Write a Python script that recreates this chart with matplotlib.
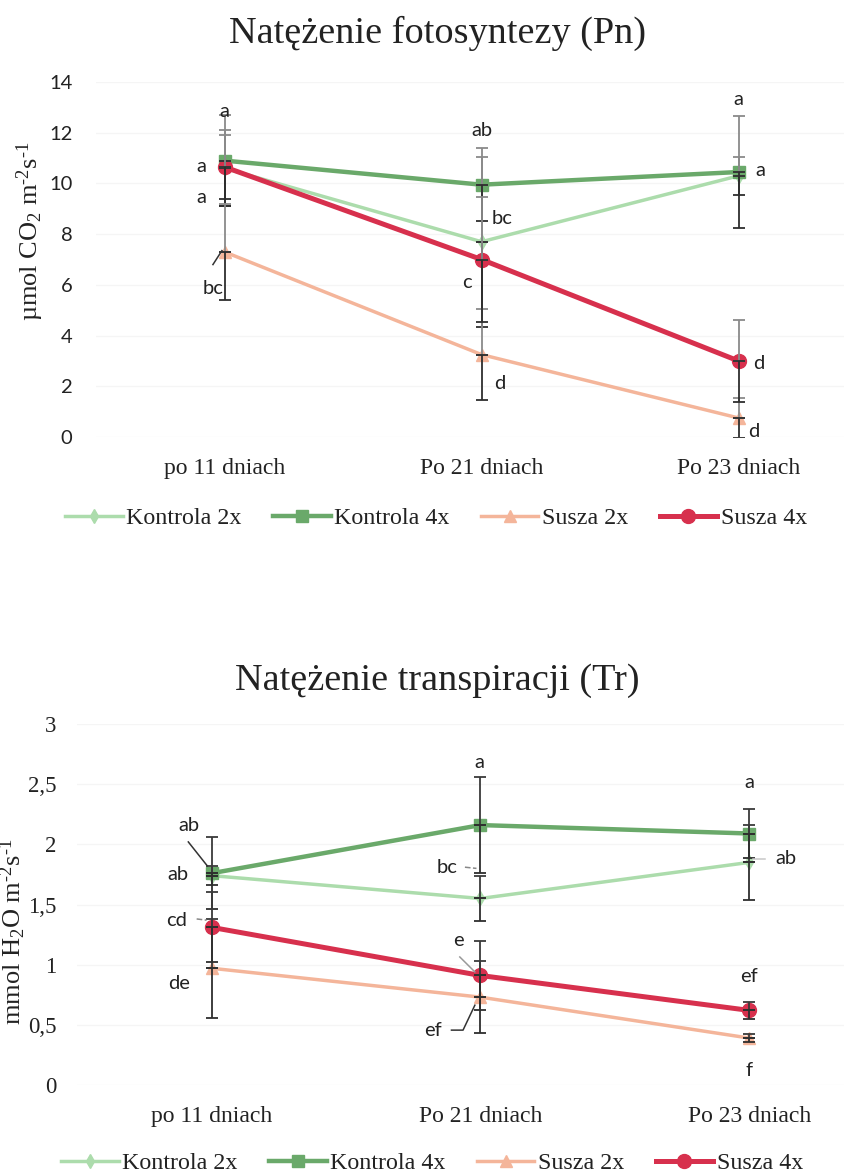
import matplotlib
matplotlib.use("Agg")
import matplotlib.pyplot as plt
from matplotlib.lines import Line2D

# ---------------- data ----------------
days = ["po 11 dniach", "Po 21 dniach", "Po 23 dniach"]
series_names = ["Kontrola 2x", "Kontrola 4x", "Susza 2x", "Susza 4x"]

# Net photosynthesis (Pn), µmol CO2 m-2 s-1
pn_kontrola_2x = [10.6, 7.7, 10.3]
pn_kontrola_4x = [10.9, 9.95, 10.45]
pn_susza_2x = [7.3, 3.25, 0.75]
pn_susza_4x = [10.65, 7.0, 3.0]
pn_err_kontrola_2x = [1.5, 3.35, 0.75]
pn_err_kontrola_4x = [1.8, 1.45, 2.2]
pn_err_susza_2x = [1.9, 1.8, 0.8]
pn_err_susza_4x = [1.25, 2.45, 1.6]
pn_ticks = [0, 2, 4, 6, 8, 10, 12, 14]

# Transpiration (Tr), mmol H2O m-2 s-1
tr_kontrola_2x = [1.74, 1.55, 1.85]
tr_kontrola_4x = [1.76, 2.16, 2.09]
tr_susza_2x = [0.97, 0.73, 0.39]
tr_susza_4x = [1.31, 0.91, 0.62]
tr_err_kontrola_2x = [0.08, 0.19, 0.31]
tr_err_kontrola_4x = [0.30, 0.40, 0.20]
tr_err_susza_2x = [0.41, 0.30, 0.03]
tr_err_susza_4x = [0.29, 0.29, 0.07]
tr_ticks = [0, 0.5, 1, 1.5, 2, 2.5, 3]

# significance letters: (text, day index)
pn_letters = [("a", 0), ("a", 0), ("a", 0), ("bc", 0),
              ("ab", 1), ("bc", 1), ("c", 1), ("d", 1),
              ("a", 2), ("a", 2), ("d", 2), ("d", 2)]
tr_letters = [("ab", 0), ("ab", 0), ("cd", 0), ("de", 0),
              ("a", 1), ("bc", 1), ("e", 1), ("ef", 1),
              ("a", 2), ("ab", 2), ("ef", 2), ("f", 2)]

# ---------------- layout / style ----------------
pn_letter_pos = [(0.0, 12.85), (-0.09, 10.65), (-0.09, 9.45), (-0.045, 5.85),
                 (0.0, 12.1), (0.08, 8.6), (-0.055, 6.1), (0.07, 2.1),
                 (0.0, 13.3), (0.085, 10.5), (0.08, 2.9), (0.06, 0.2)]
tr_letter_pos = [(-0.083, 2.16), (-0.125, 1.75), (-0.129, 1.37), (-0.122, 0.84),
                 (-0.006, 2.68), (-0.124, 1.81), (-0.081, 1.20), (-0.177, 0.456),
                 (0.0, 2.515), (0.136, 1.88), (0.0, 0.90), (0.0, 0.124)]

# leader lines: (day index, [(dx, y), ...], color, linestyle)
pn_leaders = [(0, [(-0.045, 6.8), (-0.01, 7.35)], "#333333", "-")]
tr_leaders = [(0, [(-0.087, 2.02), (-0.016, 1.82)], "#333333", "-"),
              (0, [(-0.056, 1.38), (-0.019, 1.37)], "#888888", "--"),
              (1, [(-0.058, 1.81), (-0.015, 1.80)], "#888888", "--"),
              (1, [(-0.077, 1.064), (-0.021, 0.94)], "#999999", "-"),
              (1, [(-0.108, 0.456), (-0.065, 0.456), (-0.021, 0.663)], "#333333", "-"),
              (2, [(0.014, 1.88), (0.058, 1.88)], "#c8c8c8", "-")]

styles = [
    dict(color="#acdcac", lw=2.5, marker="d", ms=7, zorder=2),
    dict(color="#6aa96a", lw=3.2, marker="s", ms=8.5, zorder=3),
    dict(color="#f4b59a", lw=2.5, marker="^", ms=8.5, zorder=2.5),
    dict(color="#d7304d", lw=3.6, marker="o", ms=10, zorder=3.5),
]

SERIF = "Liberation Serif"
SANS = "Lato"
plt.rcParams["font.family"] = [SERIF, "DejaVu Serif"]

W, H = 844, 1176
fig = plt.figure(figsize=(W / 100, H / 100), dpi=100)
fig.patch.set_facecolor("white")


def draw_panel(ax, values, errors, ticks, ylim, tick_font, tick_size, tick_fmt,
               letters, letter_pos, leaders, upper_err_color, lower_err_color):
    x = list(range(len(days)))
    for vals, st in zip(values, styles):
        ax.plot(x, vals, color=st["color"], lw=st["lw"], marker=st["marker"],
                ms=st["ms"], mfc=st["color"], mec=st["color"], zorder=st["zorder"],
                solid_joinstyle="round")
    for vals, err in zip(values, errors):
        zeros = [0] * len(err)
        ax.errorbar(x, vals, yerr=[zeros, err], fmt="none", ecolor=upper_err_color,
                    elinewidth=1.3, capsize=4.5, capthick=1.3, zorder=5)
        ax.errorbar(x, vals, yerr=[err, zeros], fmt="none", ecolor=lower_err_color,
                    elinewidth=1.3, capsize=4.5, capthick=1.3, zorder=5)
    for (txt, d), (dx, y) in zip(letters, letter_pos):
        ax.text(d + dx, y, txt, ha="center", va="center", fontsize=14.5,
                family=SANS, color="#222222", zorder=6)
    for d, pts, col, ls in leaders:
        ax.plot([d + p[0] for p in pts], [p[1] for p in pts], color=col, lw=1.1,
                ls=ls, zorder=6)
    ax.set_xlim(-0.5, 2.5)
    ax.set_ylim(*ylim)
    ax.set_yticks(ticks)
    ax.set_yticklabels([tick_fmt(t) for t in ticks], family=tick_font,
                       fontsize=tick_size, color="#222222")
    ax.set_xticks(x)
    ax.set_xticklabels(days, family=SERIF, fontsize=17, color="#222222")
    ax.tick_params(axis="both", length=0)
    ax.tick_params(axis="x", pad=15)
    for s in ax.spines.values():
        s.set_visible(False)
    ax.grid(axis="y", color="#f5f5f5", lw=1.0, zorder=0)
    ax.set_axisbelow(True)
    ax.set_facecolor("none")


# ---- top panel: photosynthesis ----
ax1 = fig.add_axes([96 / W, 1 - 437 / H, 771 / W, 355 / H])
draw_panel(ax1,
           [pn_kontrola_2x, pn_kontrola_4x, pn_susza_2x, pn_susza_4x],
           [pn_err_kontrola_2x, pn_err_kontrola_4x, pn_err_susza_2x, pn_err_susza_4x],
           pn_ticks, (0, 14), SANS, 14.5, lambda t: f"{t:g}",
           pn_letters, pn_letter_pos, pn_leaders, "#8a8a8a", "#2e2e2e")
ax1.tick_params(axis="y", pad=17)
ax1.axhline(14, color="#e6e6e6", lw=1.2, zorder=0)

# ---- bottom panel: transpiration ----
ax2 = fig.add_axes([77.3 / W, 1 - 1085 / H, 806.4 / W, 361 / H])
draw_panel(ax2,
           [tr_kontrola_2x, tr_kontrola_4x, tr_susza_2x, tr_susza_4x],
           [tr_err_kontrola_2x, tr_err_kontrola_4x, tr_err_susza_2x, tr_err_susza_4x],
           tr_ticks, (0, 3), SERIF, 16.5, lambda t: f"{t:g}".replace(".", ","),
           tr_letters, tr_letter_pos, tr_leaders, "#3a3a3a", "#2e2e2e")
ax2.tick_params(axis="y", pad=15)

# titles
fig.text(437 / W, 1 - 33 / H, "Natężenie fotosyntezy (Pn)", ha="center", va="center",
         fontsize=27.5, family=SERIF, color="#222222")
fig.text(437 / W, 1 - 681 / H, "Natężenie transpiracji (Tr)", ha="center", va="center",
         fontsize=27.5, family=SERIF, color="#222222")

# axis titles (hyphen-style exponents)
fig.text(30 / W, 1 - 231 / H,
         "µmol CO$\\mathregular{_2}$ m$\\mathregular{^{\u20102}}$s$\\mathregular{^{\u20101}}$",
         rotation=90, ha="center", va="center", fontsize=19, family=SERIF, color="#222222")
fig.text(13 / W, 1 - 932 / H,
         "mmol H$\\mathregular{_2}$O m$\\mathregular{^{\u20102}}$s$\\mathregular{^{\u20101}}$",
         rotation=90, ha="center", va="center", fontsize=19, family=SERIF, color="#222222")

# legends
handles = [Line2D([], [], color=st["color"], lw=st["lw"], marker=st["marker"],
                  ms=st["ms"], mfc=st["color"], mec=st["color"]) for st in styles]
for yc, xc in ((518, 436), (1163, 432)):
    fig.legend(handles, series_names, loc="center", bbox_to_anchor=(xc / W, 1 - yc / H),
               ncol=4, frameon=False, prop={"family": SERIF, "size": 17.3},
               handlelength=2.4, handletextpad=0.15, columnspacing=1.3,
               labelcolor="#222222")

fig.savefig("out.png", dpi=100, facecolor="white")
